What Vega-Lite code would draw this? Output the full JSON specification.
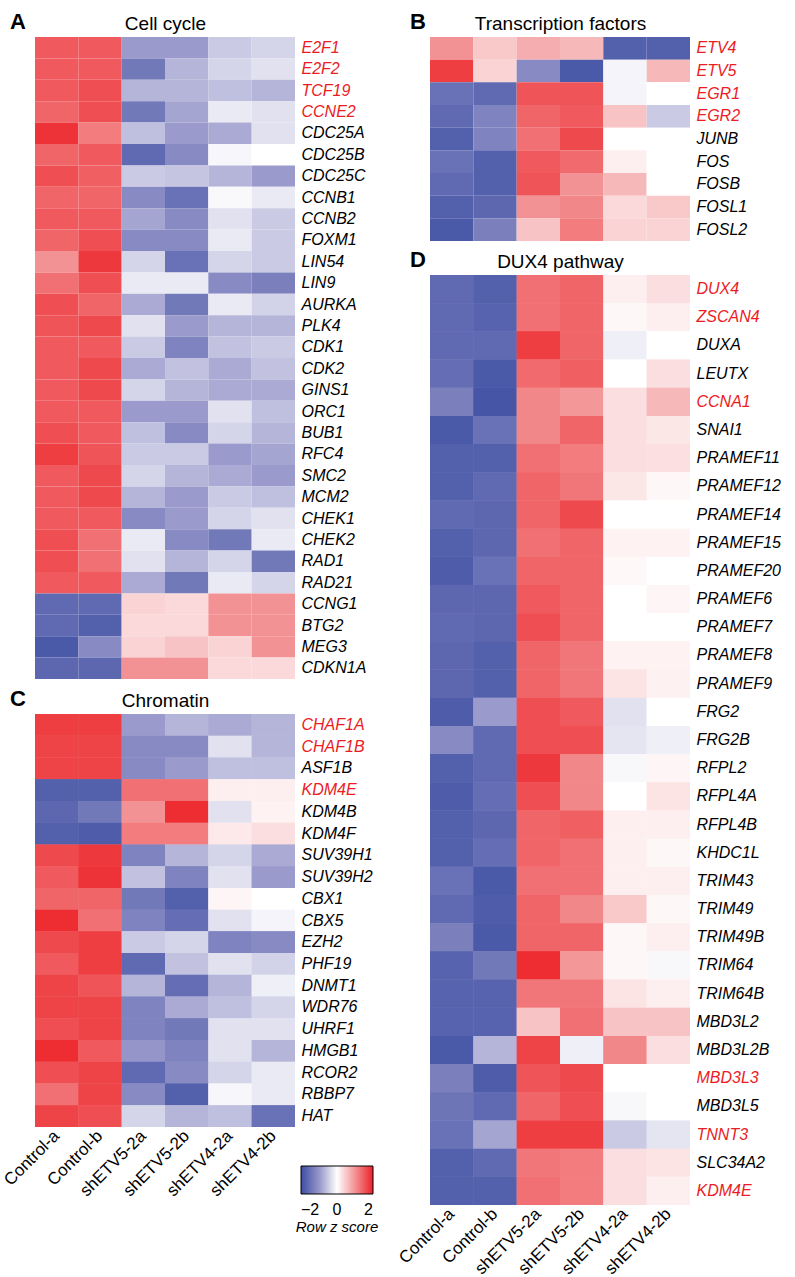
{
"$schema": "https://vega.github.io/schema/vega-lite/v6.json",
"padding": {"left": 0, "top": 11, "right": 0, "bottom": 0},
"config": {"font": "Liberation Sans", "view": {"stroke": null}, "title": {"color": "black"}},
"spacing": 22,
"datasets": {
"A": [
{"g":"E2F1","s":"Control-a","z":1.5},{"g":"E2F1","s":"Control-b","z":1.5},{"g":"E2F1","s":"shETV5-2a","z":-0.95},{"g":"E2F1","s":"shETV5-2b","z":-0.95},{"g":"E2F1","s":"shETV4-2a","z":-0.5},{"g":"E2F1","s":"shETV4-2b","z":-0.4},
{"g":"E2F2","s":"Control-a","z":1.5},{"g":"E2F2","s":"Control-b","z":1.5},{"g":"E2F2","s":"shETV5-2a","z":-1.4},{"g":"E2F2","s":"shETV5-2b","z":-0.7},{"g":"E2F2","s":"shETV4-2a","z":-0.4},{"g":"E2F2","s":"shETV4-2b","z":-0.28},
{"g":"TCF19","s":"Control-a","z":1.5},{"g":"TCF19","s":"Control-b","z":1.6},{"g":"TCF19","s":"shETV5-2a","z":-0.7},{"g":"TCF19","s":"shETV5-2b","z":-0.7},{"g":"TCF19","s":"shETV4-2a","z":-0.6},{"g":"TCF19","s":"shETV4-2b","z":-0.7},
{"g":"CCNE2","s":"Control-a","z":1.4},{"g":"CCNE2","s":"Control-b","z":1.6},{"g":"CCNE2","s":"shETV5-2a","z":-1.4},{"g":"CCNE2","s":"shETV5-2b","z":-0.85},{"g":"CCNE2","s":"shETV4-2a","z":-0.2},{"g":"CCNE2","s":"shETV4-2b","z":-0.28},
{"g":"CDC25A","s":"Control-a","z":1.85},{"g":"CDC25A","s":"Control-b","z":1.2},{"g":"CDC25A","s":"shETV5-2a","z":-0.6},{"g":"CDC25A","s":"shETV5-2b","z":-0.95},{"g":"CDC25A","s":"shETV4-2a","z":-0.8},{"g":"CDC25A","s":"shETV4-2b","z":-0.28},
{"g":"CDC25B","s":"Control-a","z":1.4},{"g":"CDC25B","s":"Control-b","z":1.5},{"g":"CDC25B","s":"shETV5-2a","z":-1.6},{"g":"CDC25B","s":"shETV5-2b","z":-1.15},{"g":"CDC25B","s":"shETV4-2a","z":-0.08},{"g":"CDC25B","s":"shETV4-2b","z":0},
{"g":"CDC25C","s":"Control-a","z":1.6},{"g":"CDC25C","s":"Control-b","z":1.45},{"g":"CDC25C","s":"shETV5-2a","z":-0.5},{"g":"CDC25C","s":"shETV5-2b","z":-0.55},{"g":"CDC25C","s":"shETV4-2a","z":-0.7},{"g":"CDC25C","s":"shETV4-2b","z":-0.95},
{"g":"CCNB1","s":"Control-a","z":1.4},{"g":"CCNB1","s":"Control-b","z":1.4},{"g":"CCNB1","s":"shETV5-2a","z":-1.15},{"g":"CCNB1","s":"shETV5-2b","z":-1.5},{"g":"CCNB1","s":"shETV4-2a","z":-0.06},{"g":"CCNB1","s":"shETV4-2b","z":-0.2},
{"g":"CCNB2","s":"Control-a","z":1.5},{"g":"CCNB2","s":"Control-b","z":1.5},{"g":"CCNB2","s":"shETV5-2a","z":-0.85},{"g":"CCNB2","s":"shETV5-2b","z":-1.15},{"g":"CCNB2","s":"shETV4-2a","z":-0.28},{"g":"CCNB2","s":"shETV4-2b","z":-0.5},
{"g":"FOXM1","s":"Control-a","z":1.4},{"g":"FOXM1","s":"Control-b","z":1.6},{"g":"FOXM1","s":"shETV5-2a","z":-1.15},{"g":"FOXM1","s":"shETV5-2b","z":-1.15},{"g":"FOXM1","s":"shETV4-2a","z":-0.2},{"g":"FOXM1","s":"shETV4-2b","z":-0.5},
{"g":"LIN54","s":"Control-a","z":1.0},{"g":"LIN54","s":"Control-b","z":1.8},{"g":"LIN54","s":"shETV5-2a","z":-0.4},{"g":"LIN54","s":"shETV5-2b","z":-1.5},{"g":"LIN54","s":"shETV4-2a","z":-0.4},{"g":"LIN54","s":"shETV4-2b","z":-0.5},
{"g":"LIN9","s":"Control-a","z":1.3},{"g":"LIN9","s":"Control-b","z":1.6},{"g":"LIN9","s":"shETV5-2a","z":-0.2},{"g":"LIN9","s":"shETV5-2b","z":-0.2},{"g":"LIN9","s":"shETV4-2a","z":-1.15},{"g":"LIN9","s":"shETV4-2b","z":-1.3},
{"g":"AURKA","s":"Control-a","z":1.6},{"g":"AURKA","s":"Control-b","z":1.4},{"g":"AURKA","s":"shETV5-2a","z":-0.8},{"g":"AURKA","s":"shETV5-2b","z":-1.4},{"g":"AURKA","s":"shETV4-2a","z":-0.2},{"g":"AURKA","s":"shETV4-2b","z":-0.42},
{"g":"PLK4","s":"Control-a","z":1.55},{"g":"PLK4","s":"Control-b","z":1.65},{"g":"PLK4","s":"shETV5-2a","z":-0.28},{"g":"PLK4","s":"shETV5-2b","z":-0.95},{"g":"PLK4","s":"shETV4-2a","z":-0.7},{"g":"PLK4","s":"shETV4-2b","z":-0.7},
{"g":"CDK1","s":"Control-a","z":1.5},{"g":"CDK1","s":"Control-b","z":1.5},{"g":"CDK1","s":"shETV5-2a","z":-0.5},{"g":"CDK1","s":"shETV5-2b","z":-1.25},{"g":"CDK1","s":"shETV4-2a","z":-0.58},{"g":"CDK1","s":"shETV4-2b","z":-0.5},
{"g":"CDK2","s":"Control-a","z":1.5},{"g":"CDK2","s":"Control-b","z":1.65},{"g":"CDK2","s":"shETV5-2a","z":-0.8},{"g":"CDK2","s":"shETV5-2b","z":-0.58},{"g":"CDK2","s":"shETV4-2a","z":-0.8},{"g":"CDK2","s":"shETV4-2b","z":-0.58},
{"g":"GINS1","s":"Control-a","z":1.5},{"g":"GINS1","s":"Control-b","z":1.65},{"g":"GINS1","s":"shETV5-2a","z":-0.4},{"g":"GINS1","s":"shETV5-2b","z":-0.7},{"g":"GINS1","s":"shETV4-2a","z":-0.8},{"g":"GINS1","s":"shETV4-2b","z":-0.8},
{"g":"ORC1","s":"Control-a","z":1.5},{"g":"ORC1","s":"Control-b","z":1.5},{"g":"ORC1","s":"shETV5-2a","z":-0.95},{"g":"ORC1","s":"shETV5-2b","z":-0.95},{"g":"ORC1","s":"shETV4-2a","z":-0.28},{"g":"ORC1","s":"shETV4-2b","z":-0.6},
{"g":"BUB1","s":"Control-a","z":1.6},{"g":"BUB1","s":"Control-b","z":1.5},{"g":"BUB1","s":"shETV5-2a","z":-0.6},{"g":"BUB1","s":"shETV5-2b","z":-1.15},{"g":"BUB1","s":"shETV4-2a","z":-0.4},{"g":"BUB1","s":"shETV4-2b","z":-0.7},
{"g":"RFC4","s":"Control-a","z":1.75},{"g":"RFC4","s":"Control-b","z":1.55},{"g":"RFC4","s":"shETV5-2a","z":-0.5},{"g":"RFC4","s":"shETV5-2b","z":-0.5},{"g":"RFC4","s":"shETV4-2a","z":-0.95},{"g":"RFC4","s":"shETV4-2b","z":-0.85},
{"g":"SMC2","s":"Control-a","z":1.5},{"g":"SMC2","s":"Control-b","z":1.65},{"g":"SMC2","s":"shETV5-2a","z":-0.4},{"g":"SMC2","s":"shETV5-2b","z":-0.7},{"g":"SMC2","s":"shETV4-2a","z":-0.8},{"g":"SMC2","s":"shETV4-2b","z":-0.95},
{"g":"MCM2","s":"Control-a","z":1.5},{"g":"MCM2","s":"Control-b","z":1.65},{"g":"MCM2","s":"shETV5-2a","z":-0.7},{"g":"MCM2","s":"shETV5-2b","z":-0.95},{"g":"MCM2","s":"shETV4-2a","z":-0.5},{"g":"MCM2","s":"shETV4-2b","z":-0.6},
{"g":"CHEK1","s":"Control-a","z":1.5},{"g":"CHEK1","s":"Control-b","z":1.5},{"g":"CHEK1","s":"shETV5-2a","z":-1.15},{"g":"CHEK1","s":"shETV5-2b","z":-0.95},{"g":"CHEK1","s":"shETV4-2a","z":-0.4},{"g":"CHEK1","s":"shETV4-2b","z":-0.28},
{"g":"CHEK2","s":"Control-a","z":1.6},{"g":"CHEK2","s":"Control-b","z":1.3},{"g":"CHEK2","s":"shETV5-2a","z":-0.2},{"g":"CHEK2","s":"shETV5-2b","z":-1.15},{"g":"CHEK2","s":"shETV4-2a","z":-1.4},{"g":"CHEK2","s":"shETV4-2b","z":-0.2},
{"g":"RAD1","s":"Control-a","z":1.6},{"g":"RAD1","s":"Control-b","z":1.3},{"g":"RAD1","s":"shETV5-2a","z":-0.28},{"g":"RAD1","s":"shETV5-2b","z":-0.7},{"g":"RAD1","s":"shETV4-2a","z":-0.4},{"g":"RAD1","s":"shETV4-2b","z":-1.4},
{"g":"RAD21","s":"Control-a","z":1.5},{"g":"RAD21","s":"Control-b","z":1.5},{"g":"RAD21","s":"shETV5-2a","z":-0.8},{"g":"RAD21","s":"shETV5-2b","z":-1.4},{"g":"RAD21","s":"shETV4-2a","z":-0.2},{"g":"RAD21","s":"shETV4-2b","z":-0.4},
{"g":"CCNG1","s":"Control-a","z":-1.6},{"g":"CCNG1","s":"Control-b","z":-1.6},{"g":"CCNG1","s":"shETV5-2a","z":0.4},{"g":"CCNG1","s":"shETV5-2b","z":0.35},{"g":"CCNG1","s":"shETV4-2a","z":1.0},{"g":"CCNG1","s":"shETV4-2b","z":1.0},
{"g":"BTG2","s":"Control-a","z":-1.6},{"g":"BTG2","s":"Control-b","z":-1.75},{"g":"BTG2","s":"shETV5-2a","z":0.35},{"g":"BTG2","s":"shETV5-2b","z":0.35},{"g":"BTG2","s":"shETV4-2a","z":1.0},{"g":"BTG2","s":"shETV4-2b","z":1.0},
{"g":"MEG3","s":"Control-a","z":-1.85},{"g":"MEG3","s":"Control-b","z":-1.15},{"g":"MEG3","s":"shETV5-2a","z":0.4},{"g":"MEG3","s":"shETV5-2b","z":0.55},{"g":"MEG3","s":"shETV4-2a","z":0.4},{"g":"MEG3","s":"shETV4-2b","z":1.0},
{"g":"CDKN1A","s":"Control-a","z":-1.65},{"g":"CDKN1A","s":"Control-b","z":-1.65},{"g":"CDKN1A","s":"shETV5-2a","z":1.0},{"g":"CDKN1A","s":"shETV5-2b","z":1.0},{"g":"CDKN1A","s":"shETV4-2a","z":0.35},{"g":"CDKN1A","s":"shETV4-2b","z":0.35}
],
"B": [
{"g":"ETV4","s":"Control-a","z":1.0},{"g":"ETV4","s":"Control-b","z":0.5},{"g":"ETV4","s":"shETV5-2a","z":0.75},{"g":"ETV4","s":"shETV5-2b","z":0.65},{"g":"ETV4","s":"shETV4-2a","z":-1.75},{"g":"ETV4","s":"shETV4-2b","z":-1.75},
{"g":"ETV5","s":"Control-a","z":1.75},{"g":"ETV5","s":"Control-b","z":0.4},{"g":"ETV5","s":"shETV5-2a","z":-1.15},{"g":"ETV5","s":"shETV5-2b","z":-1.85},{"g":"ETV5","s":"shETV4-2a","z":-0.1},{"g":"ETV5","s":"shETV4-2b","z":0.65},
{"g":"EGR1","s":"Control-a","z":-1.5},{"g":"EGR1","s":"Control-b","z":-1.6},{"g":"EGR1","s":"shETV5-2a","z":1.55},{"g":"EGR1","s":"shETV5-2b","z":1.55},{"g":"EGR1","s":"shETV4-2a","z":-0.1},{"g":"EGR1","s":"shETV4-2b","z":0},
{"g":"EGR2","s":"Control-a","z":-1.6},{"g":"EGR2","s":"Control-b","z":-1.25},{"g":"EGR2","s":"shETV5-2a","z":1.4},{"g":"EGR2","s":"shETV5-2b","z":1.5},{"g":"EGR2","s":"shETV4-2a","z":0.55},{"g":"EGR2","s":"shETV4-2b","z":-0.5},
{"g":"JUNB","s":"Control-a","z":-1.75},{"g":"JUNB","s":"Control-b","z":-1.25},{"g":"JUNB","s":"shETV5-2a","z":1.3},{"g":"JUNB","s":"shETV5-2b","z":1.65},{"g":"JUNB","s":"shETV4-2a","z":0},{"g":"JUNB","s":"shETV4-2b","z":0},
{"g":"FOS","s":"Control-a","z":-1.5},{"g":"FOS","s":"Control-b","z":-1.75},{"g":"FOS","s":"shETV5-2a","z":1.5},{"g":"FOS","s":"shETV5-2b","z":1.35},{"g":"FOS","s":"shETV4-2a","z":0.15},{"g":"FOS","s":"shETV4-2b","z":0},
{"g":"FOSB","s":"Control-a","z":-1.6},{"g":"FOSB","s":"Control-b","z":-1.75},{"g":"FOSB","s":"shETV5-2a","z":1.55},{"g":"FOSB","s":"shETV5-2b","z":1.0},{"g":"FOSB","s":"shETV4-2a","z":0.65},{"g":"FOSB","s":"shETV4-2b","z":0},
{"g":"FOSL1","s":"Control-a","z":-1.75},{"g":"FOSL1","s":"Control-b","z":-1.65},{"g":"FOSL1","s":"shETV5-2a","z":1.0},{"g":"FOSL1","s":"shETV5-2b","z":1.1},{"g":"FOSL1","s":"shETV4-2a","z":0.35},{"g":"FOSL1","s":"shETV4-2b","z":0.5},
{"g":"FOSL2","s":"Control-a","z":-1.85},{"g":"FOSL2","s":"Control-b","z":-1.3},{"g":"FOSL2","s":"shETV5-2a","z":0.55},{"g":"FOSL2","s":"shETV5-2b","z":1.2},{"g":"FOSL2","s":"shETV4-2a","z":0.4},{"g":"FOSL2","s":"shETV4-2b","z":0.4}
],
"C": [
{"g":"CHAF1A","s":"Control-a","z":1.75},{"g":"CHAF1A","s":"Control-b","z":1.75},{"g":"CHAF1A","s":"shETV5-2a","z":-0.95},{"g":"CHAF1A","s":"shETV5-2b","z":-0.7},{"g":"CHAF1A","s":"shETV4-2a","z":-0.8},{"g":"CHAF1A","s":"shETV4-2b","z":-0.7},
{"g":"CHAF1B","s":"Control-a","z":1.7},{"g":"CHAF1B","s":"Control-b","z":1.7},{"g":"CHAF1B","s":"shETV5-2a","z":-1.15},{"g":"CHAF1B","s":"shETV5-2b","z":-1.15},{"g":"CHAF1B","s":"shETV4-2a","z":-0.28},{"g":"CHAF1B","s":"shETV4-2b","z":-0.7},
{"g":"ASF1B","s":"Control-a","z":1.7},{"g":"ASF1B","s":"Control-b","z":1.7},{"g":"ASF1B","s":"shETV5-2a","z":-1.15},{"g":"ASF1B","s":"shETV5-2b","z":-0.95},{"g":"ASF1B","s":"shETV4-2a","z":-0.6},{"g":"ASF1B","s":"shETV4-2b","z":-0.6},
{"g":"KDM4E","s":"Control-a","z":-1.75},{"g":"KDM4E","s":"Control-b","z":-1.75},{"g":"KDM4E","s":"shETV5-2a","z":1.3},{"g":"KDM4E","s":"shETV5-2b","z":1.3},{"g":"KDM4E","s":"shETV4-2a","z":0.15},{"g":"KDM4E","s":"shETV4-2b","z":0.15},
{"g":"KDM4B","s":"Control-a","z":-1.65},{"g":"KDM4B","s":"Control-b","z":-1.4},{"g":"KDM4B","s":"shETV5-2a","z":1.0},{"g":"KDM4B","s":"shETV5-2b","z":1.9},{"g":"KDM4B","s":"shETV4-2a","z":-0.28},{"g":"KDM4B","s":"shETV4-2b","z":0.12},
{"g":"KDM4F","s":"Control-a","z":-1.75},{"g":"KDM4F","s":"Control-b","z":-1.8},{"g":"KDM4F","s":"shETV5-2a","z":1.2},{"g":"KDM4F","s":"shETV5-2b","z":1.2},{"g":"KDM4F","s":"shETV4-2a","z":0.2},{"g":"KDM4F","s":"shETV4-2b","z":0.3},
{"g":"SUV39H1","s":"Control-a","z":1.65},{"g":"SUV39H1","s":"Control-b","z":1.8},{"g":"SUV39H1","s":"shETV5-2a","z":-1.25},{"g":"SUV39H1","s":"shETV5-2b","z":-0.7},{"g":"SUV39H1","s":"shETV4-2a","z":-0.4},{"g":"SUV39H1","s":"shETV4-2b","z":-0.8},
{"g":"SUV39H2","s":"Control-a","z":1.5},{"g":"SUV39H2","s":"Control-b","z":1.85},{"g":"SUV39H2","s":"shETV5-2a","z":-0.58},{"g":"SUV39H2","s":"shETV5-2b","z":-1.25},{"g":"SUV39H2","s":"shETV4-2a","z":-0.28},{"g":"SUV39H2","s":"shETV4-2b","z":-0.95},
{"g":"CBX1","s":"Control-a","z":1.4},{"g":"CBX1","s":"Control-b","z":1.4},{"g":"CBX1","s":"shETV5-2a","z":-1.4},{"g":"CBX1","s":"shETV5-2b","z":-1.75},{"g":"CBX1","s":"shETV4-2a","z":0.08},{"g":"CBX1","s":"shETV4-2b","z":0},
{"g":"CBX5","s":"Control-a","z":1.9},{"g":"CBX5","s":"Control-b","z":1.3},{"g":"CBX5","s":"shETV5-2a","z":-1.25},{"g":"CBX5","s":"shETV5-2b","z":-1.55},{"g":"CBX5","s":"shETV4-2a","z":-0.28},{"g":"CBX5","s":"shETV4-2b","z":-0.1},
{"g":"EZH2","s":"Control-a","z":1.65},{"g":"EZH2","s":"Control-b","z":1.75},{"g":"EZH2","s":"shETV5-2a","z":-0.5},{"g":"EZH2","s":"shETV5-2b","z":-0.4},{"g":"EZH2","s":"shETV4-2a","z":-1.25},{"g":"EZH2","s":"shETV4-2b","z":-1.15},
{"g":"PHF19","s":"Control-a","z":1.5},{"g":"PHF19","s":"Control-b","z":1.75},{"g":"PHF19","s":"shETV5-2a","z":-1.6},{"g":"PHF19","s":"shETV5-2b","z":-0.58},{"g":"PHF19","s":"shETV4-2a","z":-0.28},{"g":"PHF19","s":"shETV4-2b","z":-0.42},
{"g":"DNMT1","s":"Control-a","z":1.7},{"g":"DNMT1","s":"Control-b","z":1.55},{"g":"DNMT1","s":"shETV5-2a","z":-0.7},{"g":"DNMT1","s":"shETV5-2b","z":-1.55},{"g":"DNMT1","s":"shETV4-2a","z":-0.7},{"g":"DNMT1","s":"shETV4-2b","z":-0.15},
{"g":"WDR76","s":"Control-a","z":1.7},{"g":"WDR76","s":"Control-b","z":1.7},{"g":"WDR76","s":"shETV5-2a","z":-1.25},{"g":"WDR76","s":"shETV5-2b","z":-0.8},{"g":"WDR76","s":"shETV4-2a","z":-0.6},{"g":"WDR76","s":"shETV4-2b","z":-0.4},
{"g":"UHRF1","s":"Control-a","z":1.6},{"g":"UHRF1","s":"Control-b","z":1.7},{"g":"UHRF1","s":"shETV5-2a","z":-1.25},{"g":"UHRF1","s":"shETV5-2b","z":-1.4},{"g":"UHRF1","s":"shETV4-2a","z":-0.28},{"g":"UHRF1","s":"shETV4-2b","z":-0.28},
{"g":"HMGB1","s":"Control-a","z":1.9},{"g":"HMGB1","s":"Control-b","z":1.5},{"g":"HMGB1","s":"shETV5-2a","z":-1.0},{"g":"HMGB1","s":"shETV5-2b","z":-1.25},{"g":"HMGB1","s":"shETV4-2a","z":-0.28},{"g":"HMGB1","s":"shETV4-2b","z":-0.7},
{"g":"RCOR2","s":"Control-a","z":1.6},{"g":"RCOR2","s":"Control-b","z":1.7},{"g":"RCOR2","s":"shETV5-2a","z":-1.6},{"g":"RCOR2","s":"shETV5-2b","z":-1.15},{"g":"RCOR2","s":"shETV4-2a","z":-0.4},{"g":"RCOR2","s":"shETV4-2b","z":-0.2},
{"g":"RBBP7","s":"Control-a","z":1.3},{"g":"RBBP7","s":"Control-b","z":1.7},{"g":"RBBP7","s":"shETV5-2a","z":-1.15},{"g":"RBBP7","s":"shETV5-2b","z":-1.75},{"g":"RBBP7","s":"shETV4-2a","z":-0.08},{"g":"RBBP7","s":"shETV4-2b","z":-0.2},
{"g":"HAT","s":"Control-a","z":1.7},{"g":"HAT","s":"Control-b","z":1.6},{"g":"HAT","s":"shETV5-2a","z":-0.4},{"g":"HAT","s":"shETV5-2b","z":-0.7},{"g":"HAT","s":"shETV4-2a","z":-0.6},{"g":"HAT","s":"shETV4-2b","z":-1.5}
],
"D": [
{"g":"DUX4","s":"Control-a","z":-1.6},{"g":"DUX4","s":"Control-b","z":-1.75},{"g":"DUX4","s":"shETV5-2a","z":1.3},{"g":"DUX4","s":"shETV5-2b","z":1.4},{"g":"DUX4","s":"shETV4-2a","z":0.15},{"g":"DUX4","s":"shETV4-2b","z":0.3},
{"g":"ZSCAN4","s":"Control-a","z":-1.6},{"g":"ZSCAN4","s":"Control-b","z":-1.7},{"g":"ZSCAN4","s":"shETV5-2a","z":1.3},{"g":"ZSCAN4","s":"shETV5-2b","z":1.4},{"g":"ZSCAN4","s":"shETV4-2a","z":0.07},{"g":"ZSCAN4","s":"shETV4-2b","z":0.15},
{"g":"DUXA","s":"Control-a","z":-1.6},{"g":"DUXA","s":"Control-b","z":-1.6},{"g":"DUXA","s":"shETV5-2a","z":1.75},{"g":"DUXA","s":"shETV5-2b","z":1.4},{"g":"DUXA","s":"shETV4-2a","z":-0.15},{"g":"DUXA","s":"shETV4-2b","z":0},
{"g":"LEUTX","s":"Control-a","z":-1.55},{"g":"LEUTX","s":"Control-b","z":-1.85},{"g":"LEUTX","s":"shETV5-2a","z":1.35},{"g":"LEUTX","s":"shETV5-2b","z":1.45},{"g":"LEUTX","s":"shETV4-2a","z":0},{"g":"LEUTX","s":"shETV4-2b","z":0.3},
{"g":"CCNA1","s":"Control-a","z":-1.3},{"g":"CCNA1","s":"Control-b","z":-1.9},{"g":"CCNA1","s":"shETV5-2a","z":1.1},{"g":"CCNA1","s":"shETV5-2b","z":0.95},{"g":"CCNA1","s":"shETV4-2a","z":0.3},{"g":"CCNA1","s":"shETV4-2b","z":0.65},
{"g":"SNAI1","s":"Control-a","z":-1.85},{"g":"SNAI1","s":"Control-b","z":-1.5},{"g":"SNAI1","s":"shETV5-2a","z":1.1},{"g":"SNAI1","s":"shETV5-2b","z":1.4},{"g":"SNAI1","s":"shETV4-2a","z":0.3},{"g":"SNAI1","s":"shETV4-2b","z":0.22},
{"g":"PRAMEF11","s":"Control-a","z":-1.75},{"g":"PRAMEF11","s":"Control-b","z":-1.75},{"g":"PRAMEF11","s":"shETV5-2a","z":1.3},{"g":"PRAMEF11","s":"shETV5-2b","z":1.2},{"g":"PRAMEF11","s":"shETV4-2a","z":0.3},{"g":"PRAMEF11","s":"shETV4-2b","z":0.28},
{"g":"PRAMEF12","s":"Control-a","z":-1.75},{"g":"PRAMEF12","s":"Control-b","z":-1.6},{"g":"PRAMEF12","s":"shETV5-2a","z":1.4},{"g":"PRAMEF12","s":"shETV5-2b","z":1.25},{"g":"PRAMEF12","s":"shETV4-2a","z":0.22},{"g":"PRAMEF12","s":"shETV4-2b","z":0.07},
{"g":"PRAMEF14","s":"Control-a","z":-1.6},{"g":"PRAMEF14","s":"Control-b","z":-1.65},{"g":"PRAMEF14","s":"shETV5-2a","z":1.4},{"g":"PRAMEF14","s":"shETV5-2b","z":1.65},{"g":"PRAMEF14","s":"shETV4-2a","z":0},{"g":"PRAMEF14","s":"shETV4-2b","z":0},
{"g":"PRAMEF15","s":"Control-a","z":-1.75},{"g":"PRAMEF15","s":"Control-b","z":-1.65},{"g":"PRAMEF15","s":"shETV5-2a","z":1.3},{"g":"PRAMEF15","s":"shETV5-2b","z":1.4},{"g":"PRAMEF15","s":"shETV4-2a","z":0.12},{"g":"PRAMEF15","s":"shETV4-2b","z":0.12},
{"g":"PRAMEF20","s":"Control-a","z":-1.8},{"g":"PRAMEF20","s":"Control-b","z":-1.5},{"g":"PRAMEF20","s":"shETV5-2a","z":1.4},{"g":"PRAMEF20","s":"shETV5-2b","z":1.4},{"g":"PRAMEF20","s":"shETV4-2a","z":0.06},{"g":"PRAMEF20","s":"shETV4-2b","z":0},
{"g":"PRAMEF6","s":"Control-a","z":-1.65},{"g":"PRAMEF6","s":"Control-b","z":-1.65},{"g":"PRAMEF6","s":"shETV5-2a","z":1.5},{"g":"PRAMEF6","s":"shETV5-2b","z":1.4},{"g":"PRAMEF6","s":"shETV4-2a","z":0},{"g":"PRAMEF6","s":"shETV4-2b","z":0.08},
{"g":"PRAMEF7","s":"Control-a","z":-1.6},{"g":"PRAMEF7","s":"Control-b","z":-1.65},{"g":"PRAMEF7","s":"shETV5-2a","z":1.6},{"g":"PRAMEF7","s":"shETV5-2b","z":1.4},{"g":"PRAMEF7","s":"shETV4-2a","z":0},{"g":"PRAMEF7","s":"shETV4-2b","z":0},
{"g":"PRAMEF8","s":"Control-a","z":-1.65},{"g":"PRAMEF8","s":"Control-b","z":-1.75},{"g":"PRAMEF8","s":"shETV5-2a","z":1.4},{"g":"PRAMEF8","s":"shETV5-2b","z":1.25},{"g":"PRAMEF8","s":"shETV4-2a","z":0.12},{"g":"PRAMEF8","s":"shETV4-2b","z":0.12},
{"g":"PRAMEF9","s":"Control-a","z":-1.65},{"g":"PRAMEF9","s":"Control-b","z":-1.75},{"g":"PRAMEF9","s":"shETV5-2a","z":1.4},{"g":"PRAMEF9","s":"shETV5-2b","z":1.25},{"g":"PRAMEF9","s":"shETV4-2a","z":0.25},{"g":"PRAMEF9","s":"shETV4-2b","z":0.13},
{"g":"FRG2","s":"Control-a","z":-1.8},{"g":"FRG2","s":"Control-b","z":-0.95},{"g":"FRG2","s":"shETV5-2a","z":1.6},{"g":"FRG2","s":"shETV5-2b","z":1.5},{"g":"FRG2","s":"shETV4-2a","z":-0.28},{"g":"FRG2","s":"shETV4-2b","z":0},
{"g":"FRG2B","s":"Control-a","z":-1.15},{"g":"FRG2B","s":"Control-b","z":-1.6},{"g":"FRG2B","s":"shETV5-2a","z":1.6},{"g":"FRG2B","s":"shETV5-2b","z":1.6},{"g":"FRG2B","s":"shETV4-2a","z":-0.25},{"g":"FRG2B","s":"shETV4-2b","z":-0.15},
{"g":"RFPL2","s":"Control-a","z":-1.75},{"g":"RFPL2","s":"Control-b","z":-1.6},{"g":"RFPL2","s":"shETV5-2a","z":1.8},{"g":"RFPL2","s":"shETV5-2b","z":1.1},{"g":"RFPL2","s":"shETV4-2a","z":-0.07},{"g":"RFPL2","s":"shETV4-2b","z":0.08},
{"g":"RFPL4A","s":"Control-a","z":-1.8},{"g":"RFPL4A","s":"Control-b","z":-1.55},{"g":"RFPL4A","s":"shETV5-2a","z":1.6},{"g":"RFPL4A","s":"shETV5-2b","z":1.1},{"g":"RFPL4A","s":"shETV4-2a","z":0},{"g":"RFPL4A","s":"shETV4-2b","z":0.25},
{"g":"RFPL4B","s":"Control-a","z":-1.75},{"g":"RFPL4B","s":"Control-b","z":-1.65},{"g":"RFPL4B","s":"shETV5-2a","z":1.4},{"g":"RFPL4B","s":"shETV5-2b","z":1.45},{"g":"RFPL4B","s":"shETV4-2a","z":0.15},{"g":"RFPL4B","s":"shETV4-2b","z":0.15},
{"g":"KHDC1L","s":"Control-a","z":-1.75},{"g":"KHDC1L","s":"Control-b","z":-1.55},{"g":"KHDC1L","s":"shETV5-2a","z":1.4},{"g":"KHDC1L","s":"shETV5-2b","z":1.3},{"g":"KHDC1L","s":"shETV4-2a","z":0.15},{"g":"KHDC1L","s":"shETV4-2b","z":0.07},
{"g":"TRIM43","s":"Control-a","z":-1.5},{"g":"TRIM43","s":"Control-b","z":-1.85},{"g":"TRIM43","s":"shETV5-2a","z":1.3},{"g":"TRIM43","s":"shETV5-2b","z":1.3},{"g":"TRIM43","s":"shETV4-2a","z":0.15},{"g":"TRIM43","s":"shETV4-2b","z":0.15},
{"g":"TRIM49","s":"Control-a","z":-1.6},{"g":"TRIM49","s":"Control-b","z":-1.8},{"g":"TRIM49","s":"shETV5-2a","z":1.4},{"g":"TRIM49","s":"shETV5-2b","z":1.1},{"g":"TRIM49","s":"shETV4-2a","z":0.5},{"g":"TRIM49","s":"shETV4-2b","z":0.07},
{"g":"TRIM49B","s":"Control-a","z":-1.3},{"g":"TRIM49B","s":"Control-b","z":-1.85},{"g":"TRIM49B","s":"shETV5-2a","z":1.4},{"g":"TRIM49B","s":"shETV5-2b","z":1.4},{"g":"TRIM49B","s":"shETV4-2a","z":0.07},{"g":"TRIM49B","s":"shETV4-2b","z":0.15},
{"g":"TRIM64","s":"Control-a","z":-1.7},{"g":"TRIM64","s":"Control-b","z":-1.4},{"g":"TRIM64","s":"shETV5-2a","z":1.9},{"g":"TRIM64","s":"shETV5-2b","z":0.95},{"g":"TRIM64","s":"shETV4-2a","z":0.07},{"g":"TRIM64","s":"shETV4-2b","z":-0.07},
{"g":"TRIM64B","s":"Control-a","z":-1.7},{"g":"TRIM64B","s":"Control-b","z":-1.7},{"g":"TRIM64B","s":"shETV5-2a","z":1.25},{"g":"TRIM64B","s":"shETV5-2b","z":1.25},{"g":"TRIM64B","s":"shETV4-2a","z":0.25},{"g":"TRIM64B","s":"shETV4-2b","z":0.15},
{"g":"MBD3L2","s":"Control-a","z":-1.7},{"g":"MBD3L2","s":"Control-b","z":-1.7},{"g":"MBD3L2","s":"shETV5-2a","z":0.55},{"g":"MBD3L2","s":"shETV5-2b","z":1.3},{"g":"MBD3L2","s":"shETV4-2a","z":0.55},{"g":"MBD3L2","s":"shETV4-2b","z":0.55},
{"g":"MBD3L2B","s":"Control-a","z":-1.85},{"g":"MBD3L2B","s":"Control-b","z":-0.7},{"g":"MBD3L2B","s":"shETV5-2a","z":1.7},{"g":"MBD3L2B","s":"shETV5-2b","z":-0.15},{"g":"MBD3L2B","s":"shETV4-2a","z":1.1},{"g":"MBD3L2B","s":"shETV4-2b","z":0.3},
{"g":"MBD3L3","s":"Control-a","z":-1.3},{"g":"MBD3L3","s":"Control-b","z":-1.8},{"g":"MBD3L3","s":"shETV5-2a","z":1.55},{"g":"MBD3L3","s":"shETV5-2b","z":1.65},{"g":"MBD3L3","s":"shETV4-2a","z":0},{"g":"MBD3L3","s":"shETV4-2b","z":0},
{"g":"MBD3L5","s":"Control-a","z":-1.45},{"g":"MBD3L5","s":"Control-b","z":-1.6},{"g":"MBD3L5","s":"shETV5-2a","z":1.4},{"g":"MBD3L5","s":"shETV5-2b","z":1.6},{"g":"MBD3L5","s":"shETV4-2a","z":-0.07},{"g":"MBD3L5","s":"shETV4-2b","z":0},
{"g":"TNNT3","s":"Control-a","z":-1.5},{"g":"TNNT3","s":"Control-b","z":-0.85},{"g":"TNNT3","s":"shETV5-2a","z":1.75},{"g":"TNNT3","s":"shETV5-2b","z":1.75},{"g":"TNNT3","s":"shETV4-2a","z":-0.5},{"g":"TNNT3","s":"shETV4-2b","z":-0.25},
{"g":"SLC34A2","s":"Control-a","z":-1.75},{"g":"SLC34A2","s":"Control-b","z":-1.6},{"g":"SLC34A2","s":"shETV5-2a","z":1.25},{"g":"SLC34A2","s":"shETV5-2b","z":1.2},{"g":"SLC34A2","s":"shETV4-2a","z":0.3},{"g":"SLC34A2","s":"shETV4-2b","z":0.25},
{"g":"KDM4E","s":"Control-a","z":-1.75},{"g":"KDM4E","s":"Control-b","z":-1.75},{"g":"KDM4E","s":"shETV5-2a","z":1.3},{"g":"KDM4E","s":"shETV5-2b","z":1.2},{"g":"KDM4E","s":"shETV4-2a","z":0.3},{"g":"KDM4E","s":"shETV4-2b","z":0.15}
]
},
"hconcat": [
{"spacing": 9, "vconcat": [
{"width": 260, "height": 642, "data": {"name": "A"},
 "title": {"text": "A", "anchor": "start", "frame": "group", "dx": -25, "dy": 24, "fontSize": 22, "fontWeight": "bold"},
 "mark": {"type": "rect"},
 "encoding": {
  "x": {"field": "s", "type": "nominal", "sort": null, "axis": {"orient": "top", "labels": false, "ticks": false, "domain": false, "title": "Cell cycle", "titleFontSize": 19, "titleFontWeight": "normal", "titlePadding": 4}},
  "y": {"field": "g", "type": "nominal", "sort": null, "axis": {"orient": "right", "title": null, "ticks": false, "domain": false, "labelFontSize": 16, "labelFontStyle": "italic", "labelPadding": 6, "labelColor": {"condition": {"test": "indexof(['E2F1','E2F2','TCF19','CCNE2','ETV4','ETV5','EGR1','EGR2','CHAF1A','CHAF1B','KDM4E','DUX4','ZSCAN4','CCNA1','MBD3L3','TNNT3'], datum.value) >= 0", "value": "#ec1c24"}, "value": "black"}}},
  "color": {"field": "z", "type": "quantitative", "scale": {"domain": [-2, -1, 0, 1, 2], "range": ["#3d4ea2", "#9595c9", "#ffffff", "#f39294", "#ec2227"], "interpolate": "rgb", "clamp": true},
   "legend": {"orient": "none", "direction": "horizontal", "legendX": 261, "legendY": 1129, "gradientLength": 72, "gradientThickness": 28, "gradientStrokeColor": "black", "gradientStrokeWidth": 1, "values": [-2, 0, 2], "labelFontSize": 16, "labelAlign": "center", "labelColor": "black", "labelOffset": 8, "title": "Row z score", "titleOrient": "bottom", "titlePadding": 2, "titleFontStyle": "italic", "titleFontWeight": "normal", "titleFontSize": 15, "titleColor": "black", "titleAnchor": "middle", "padding": 0}}
 }
},
{"width": 260, "height": 413, "data": {"name": "C"},
 "title": {"text": "C", "anchor": "start", "frame": "group", "dx": -25, "dy": 24, "fontSize": 22, "fontWeight": "bold"},
 "resolve": {"axis": {"x": "independent"}},
 "layer": [
 {"mark": {"type": "rect"},
  "encoding": {
   "x": {"field": "s", "type": "nominal", "sort": null, "axis": {"orient": "top", "labels": false, "ticks": false, "domain": false, "title": "Chromatin", "titleFontSize": 19, "titleFontWeight": "normal", "titlePadding": 4}},
   "y": {"field": "g", "type": "nominal", "sort": null, "axis": {"orient": "right", "title": null, "ticks": false, "domain": false, "labelFontSize": 16, "labelFontStyle": "italic", "labelPadding": 6, "labelColor": {"condition": {"test": "indexof(['E2F1','E2F2','TCF19','CCNE2','ETV4','ETV5','EGR1','EGR2','CHAF1A','CHAF1B','KDM4E','DUX4','ZSCAN4','CCNA1','MBD3L3','TNNT3'], datum.value) >= 0", "value": "#ec1c24"}, "value": "black"}}},
   "color": {"field": "z", "type": "quantitative", "scale": {"domain": [-2, -1, 0, 1, 2], "range": ["#3d4ea2", "#9595c9", "#ffffff", "#f39294", "#ec2227"], "interpolate": "rgb", "clamp": true},
    "legend": {"orient": "none", "direction": "horizontal", "legendX": 261, "legendY": 1129, "gradientLength": 72, "gradientThickness": 28, "gradientStrokeColor": "black", "gradientStrokeWidth": 1, "values": [-2, 0, 2], "labelFontSize": 16, "labelAlign": "center", "labelColor": "black", "labelOffset": 8, "title": "Row z score", "titleOrient": "bottom", "titlePadding": 2, "titleFontStyle": "italic", "titleFontWeight": "normal", "titleFontSize": 15, "titleColor": "black", "titleAnchor": "middle", "padding": 0}}
  }},
 {"mark": {"type": "rect"},
  "encoding": {
   "x": {"field": "s", "type": "nominal", "sort": null, "axis": {"orient": "bottom", "title": null, "ticks": false, "domain": false, "labelAngle": -45, "labelAlign": "right", "labelBaseline": "middle", "labelFontSize": 17, "labelColor": "black", "labelPadding": 6}},
   "y": {"field": "g", "type": "nominal", "sort": null},
   "color": {"field": "z", "type": "quantitative"}
  }}
 ]
}
]},
{"spacing": 8, "vconcat": [
{"width": 260, "height": 204, "data": {"name": "B"},
 "title": {"text": "B", "anchor": "start", "frame": "group", "dx": -20, "dy": 24, "fontSize": 22, "fontWeight": "bold"},
 "mark": {"type": "rect"},
 "encoding": {
  "x": {"field": "s", "type": "nominal", "sort": null, "axis": {"orient": "top", "labels": false, "ticks": false, "domain": false, "title": "Transcription factors", "titleFontSize": 19, "titleFontWeight": "normal", "titlePadding": 4}},
  "y": {"field": "g", "type": "nominal", "sort": null, "axis": {"orient": "right", "title": null, "ticks": false, "domain": false, "labelFontSize": 16, "labelFontStyle": "italic", "labelPadding": 6, "labelColor": {"condition": {"test": "indexof(['E2F1','E2F2','TCF19','CCNE2','ETV4','ETV5','EGR1','EGR2','CHAF1A','CHAF1B','KDM4E','DUX4','ZSCAN4','CCNA1','MBD3L3','TNNT3'], datum.value) >= 0", "value": "#ec1c24"}, "value": "black"}}},
  "color": {"field": "z", "type": "quantitative", "scale": {"domain": [-2, -1, 0, 1, 2], "range": ["#3d4ea2", "#9595c9", "#ffffff", "#f39294", "#ec2227"], "interpolate": "rgb", "clamp": true},
   "legend": {"orient": "none", "direction": "horizontal", "legendX": 261, "legendY": 1129, "gradientLength": 72, "gradientThickness": 28, "gradientStrokeColor": "black", "gradientStrokeWidth": 1, "values": [-2, 0, 2], "labelFontSize": 16, "labelAlign": "center", "labelColor": "black", "labelOffset": 8, "title": "Row z score", "titleOrient": "bottom", "titlePadding": 2, "titleFontStyle": "italic", "titleFontWeight": "normal", "titleFontSize": 15, "titleColor": "black", "titleAnchor": "middle", "padding": 0}}
 }
},
{"width": 260, "height": 930, "data": {"name": "D"},
 "title": {"text": "D", "anchor": "start", "frame": "group", "dx": -20, "dy": 24, "fontSize": 22, "fontWeight": "bold"},
 "resolve": {"axis": {"x": "independent"}},
 "layer": [
 {"mark": {"type": "rect"},
  "encoding": {
   "x": {"field": "s", "type": "nominal", "sort": null, "axis": {"orient": "top", "labels": false, "ticks": false, "domain": false, "title": "DUX4 pathway", "titleFontSize": 19, "titleFontWeight": "normal", "titlePadding": 4}},
   "y": {"field": "g", "type": "nominal", "sort": null, "axis": {"orient": "right", "title": null, "ticks": false, "domain": false, "labelFontSize": 16, "labelFontStyle": "italic", "labelPadding": 6, "labelColor": {"condition": {"test": "indexof(['E2F1','E2F2','TCF19','CCNE2','ETV4','ETV5','EGR1','EGR2','CHAF1A','CHAF1B','KDM4E','DUX4','ZSCAN4','CCNA1','MBD3L3','TNNT3'], datum.value) >= 0", "value": "#ec1c24"}, "value": "black"}}},
   "color": {"field": "z", "type": "quantitative", "scale": {"domain": [-2, -1, 0, 1, 2], "range": ["#3d4ea2", "#9595c9", "#ffffff", "#f39294", "#ec2227"], "interpolate": "rgb", "clamp": true},
    "legend": {"orient": "none", "direction": "horizontal", "legendX": 261, "legendY": 1129, "gradientLength": 72, "gradientThickness": 28, "gradientStrokeColor": "black", "gradientStrokeWidth": 1, "values": [-2, 0, 2], "labelFontSize": 16, "labelAlign": "center", "labelColor": "black", "labelOffset": 8, "title": "Row z score", "titleOrient": "bottom", "titlePadding": 2, "titleFontStyle": "italic", "titleFontWeight": "normal", "titleFontSize": 15, "titleColor": "black", "titleAnchor": "middle", "padding": 0}}
  }},
 {"mark": {"type": "rect"},
  "encoding": {
   "x": {"field": "s", "type": "nominal", "sort": null, "axis": {"orient": "bottom", "title": null, "ticks": false, "domain": false, "labelAngle": -45, "labelAlign": "right", "labelBaseline": "middle", "labelFontSize": 17, "labelColor": "black", "labelPadding": 6}},
   "y": {"field": "g", "type": "nominal", "sort": null},
   "color": {"field": "z", "type": "quantitative"}
  }}
 ]
}
]}
]
}
